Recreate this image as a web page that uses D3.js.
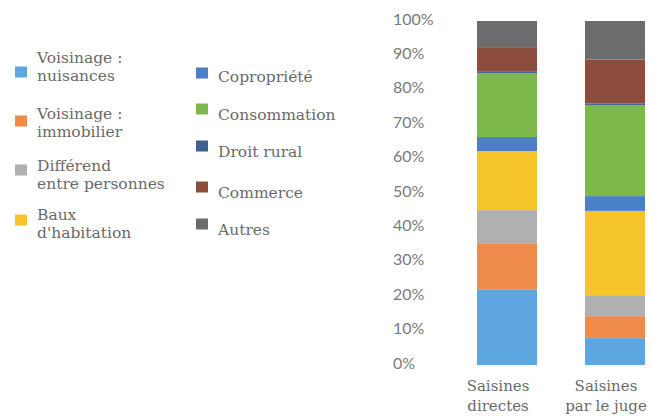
<!DOCTYPE html>
<html>
<head>
<meta charset="utf-8">
<script src="https://cdn.jsdelivr.net/npm/d3@7"></script>
<style>
  body { margin: 0; background: #fff; }
  .tick-label { font-family: Lato, sans-serif; font-size: 16px; fill: #7a7a7a; }
  .legend text { font-family: "DejaVu Serif", serif; font-size: 15.5px; fill: #6a6a6a; }
  .cat-label { font-family: "DejaVu Serif", serif; font-size: 15px; fill: #6a6a6a; }
</style>
</head>
<body>
<div id="chart"></div>
<script>
var w = 652;
var h = 416;

// bars (x categories), each label split on two lines
var categories = ["Saisines directes", "Saisines par le juge"];
var categoryLines = [["Saisines", "directes"], ["Saisines", "par le juge"]];

// stacked series, bottom to top
var seriesNames = ["Voisinage : nuisances", "Voisinage : immobilier", "Différend entre personnes",
                   "Baux d'habitation", "Copropriété", "Consommation", "Droit rural", "Commerce", "Autres"];
var nuisances   = [22.0, 7.8];
var immobilier  = [13.4, 6.4];
var differend   = [9.6, 6.1];
var baux        = [17.2, 24.5];
var copropriete = [4.1, 4.3];
var consommation = [18.6, 26.5];
var droitRural  = [0.5, 0.4];
var commerce    = [7.0, 12.8];
var autres      = [7.6, 11.2];
var seriesValues = [nuisances, immobilier, differend, baux, copropriete, consommation, droitRural, commerce, autres];

var yTicks = [0, 10, 20, 30, 40, 50, 60, 70, 80, 90, 100];

var colors = ["#5ea6e0", "#ee8a4a", "#b0b0b0", "#f5c428", "#4b7fc6", "#7cb84a", "#3f5f90", "#8c4d3d", "#6c6c6c"];

// legend labels, wrapped as in the original
var legendLines = [["Voisinage :", "nuisances"], ["Voisinage :", "immobilier"], ["Différend", "entre personnes"],
                   ["Baux", "d'habitation"], ["Copropriété"], ["Consommation"], ["Droit rural"], ["Commerce"], ["Autres"]];

function init(){

	// build a table the stack layout can use
	var table = categories.map(function(c, i){
		var row = {category: c};
		seriesNames.forEach(function(s, j){ row[s] = seriesValues[j][i]; });
		return row;
	});

	var stack = d3.stack().keys(seriesNames);
	var layers = stack(table);

	var xScale = d3.scaleBand()
					.domain(categories)
					.range([450, 672])
					.paddingInner(0.444)
					.paddingOuter(0.25);

	var yScale = d3.scaleLinear()
					.domain([0, 100])
					.range([365, 21]);

	var svg = d3.select("#chart")
				.append("svg")
				.attr("width", w)
				.attr("height", h);

	svg.selectAll("g.layer")
		.data(layers)
		.enter()
		.append("g")
		.attr("class", "layer")
		.attr("fill", function(d, i){ return colors[i]; })
		.selectAll("rect")
		.data(function(d){ return d; })
		.enter()
		.append("rect")
		.attr("x", function(d){ return xScale(d.data.category); })
		.attr("width", xScale.bandwidth())
		.attr("y", function(d){ return yScale(d[1]); })
		.attr("height", function(d){ return yScale(d[0]) - yScale(d[1]); });

	// y tick labels (no axis line)
	svg.selectAll("text.tick-label")
		.data(yTicks)
		.enter()
		.append("text")
		.attr("class", "tick-label")
		.attr("x", 393)
		.attr("y", function(d){ return yScale(d) - 0.5; })
		.attr("dominant-baseline", "middle")
		.text(function(d){ return d + "%"; });

	// category labels under bars, sitting a little left of the bar centre like the scan
	var labelX = function(c){ return xScale(c) + xScale.bandwidth() / 2 - 9; };
	var cat = svg.selectAll("text.cat-label")
		.data(categories)
		.enter()
		.append("text")
		.attr("class", "cat-label")
		.attr("text-anchor", "middle")
		.attr("x", labelX)
		.attr("y", 391);
	cat.selectAll("tspan")
		.data(function(d, i){ return categoryLines[i]; })
		.enter()
		.append("tspan")
		.attr("x", function(){ return labelX(d3.select(this.parentNode).datum()); })
		.attr("dy", function(d, i){ return i == 0 ? 0 : 20; })
		.text(function(d){ return d; });

	// legend, two columns
	var lineGap = 18;
	var swatchX = [15, 15, 15, 15, 196, 196, 196, 196, 196];
	var swatchY = [72, 121, 170, 220, 73, 109, 146, 187, 224];
	var textX   = [37, 37, 37, 37, 218, 218, 218, 218, 218];
	var textY   = [67, 122.5, 175, 224, 77, 115, 152, 193, 230];   // centre of the whole label

	var legend = svg.append("g").attr("class", "legend");
	var item = legend.selectAll("g")
		.data(seriesNames)
		.enter()
		.append("g");

	item.append("rect")
		.attr("x", function(d, i){ return swatchX[i]; })
		.attr("y", function(d, i){ return swatchY[i] - 5.5; })
		.attr("width", 12)
		.attr("height", 11)
		.attr("fill", function(d, i){ return colors[i]; });

	item.append("text")
		.attr("y", function(d, i){ return textY[i] - (legendLines[i].length - 1) * lineGap / 2 + 5; })
		.selectAll("tspan")
		.data(function(d, i){ return legendLines[i].map(function(t){ return {t: t, x: textX[i]}; }); })
		.enter()
		.append("tspan")
		.attr("x", function(d){ return d.x; })
		.attr("dy", function(d, i){ return i == 0 ? 0 : lineGap; })
		.text(function(d){ return d.t; });
}

window.onload = init;
</script>
</body>
</html>
